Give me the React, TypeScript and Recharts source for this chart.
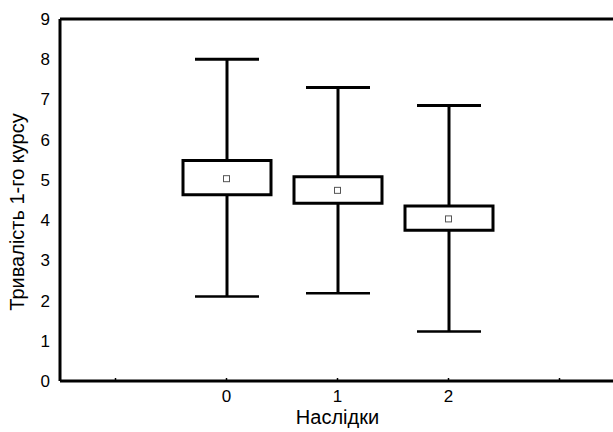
import React from "react";
import {
  ComposedChart,
  Bar,
  Scatter,
  XAxis,
  YAxis,
  Label,
} from "recharts";

// groups on the x axis; the outer two are empty slots that only carry a tick
const groups = ["-1", "0", "1", "2", "3"];
const minVals = [null, 2.1, 2.18, 1.23, null];
const q1Vals = [null, 4.63, 4.42, 3.75, null];
const q3Vals = [null, 5.48, 5.08, 4.35, null];
const maxVals = [null, 8.0, 7.3, 6.85, null];
const meanVals = [null, 5.03, 4.74, 4.03, null];
const yTicks = [0, 1, 2, 3, 4, 5, 6, 7, 8, 9];
const rightTicks = [1, 2, 3, 4, 5, 6, 7, 8];

const data = groups.map((g, i) => ({
  group: g,
  min: minVals[i],
  q1: q1Vals[i],
  q3: q3Vals[i],
  max: maxVals[i],
  mean: meanVals[i],
}));

const FONT = "'Liberation Sans', Arial, sans-serif";

const WhiskerShape: React.FC<any> = ({ x, y, width, height }) => {
  if (height == null || isNaN(y) || isNaN(height)) return null;
  const cx = x + width / 2;
  return (
    <g>
      <line x1={cx} x2={cx} y1={y} y2={y + height} stroke="#000" strokeWidth={3} />
      <line x1={x} x2={x + width} y1={y} y2={y} stroke="#000" strokeWidth={3} />
      <line x1={x} x2={x + width} y1={y + height} y2={y + height} stroke="#000" strokeWidth={2.5} />
    </g>
  );
};

const MeanShape: React.FC<any> = ({ cx, cy, payload }) => {
  if (payload == null || payload.mean == null || isNaN(cy)) return null;
  return (
    <rect x={cx - 3} y={cy - 3} width={6} height={6} fill="#fff" stroke="#555" strokeWidth={1} />
  );
};

const YLabel: React.FC<any> = ({ viewBox }) => {
  const cy = viewBox.y + viewBox.height / 2 + 12;
  return (
    <text
      x={24}
      y={cy}
      transform={`rotate(-90 24 ${cy})`}
      textAnchor="middle"
      fontFamily={FONT}
      fontSize={20}
      fill="#000"
    >
      Тривалість 1-го курсу
    </text>
  );
};

export default function App() {
  return (
    <div style={{ width: 613, height: 432, overflow: "hidden", background: "#fff" }}>
      <style>{"body{margin:0;overflow:hidden}"}</style>
      <ComposedChart
        width={620}
        height={432}
        data={data}
        margin={{ top: 18, right: 0, bottom: 0, left: 0 }}
      >
        <XAxis
          dataKey="group"
          type="category"
          height={51}
          axisLine={{ stroke: "#000", strokeWidth: 3 }}
          tickLine={{ stroke: "#000", strokeWidth: 1.5 }}
          tickSize={-3}
          tickMargin={12}
          tickFormatter={(v: string) => (v === "-1" || v === "3" ? "" : v)}
          tick={{ fill: "#000", fontSize: 17, fontFamily: FONT }}
        >
          <Label
            value="Наслідки"
            position="insideBottom"
            offset={8}
            style={{ fill: "#000", fontSize: 20, fontFamily: FONT }}
          />
        </XAxis>
        <XAxis
          xAxisId="top"
          dataKey="group"
          type="category"
          orientation="top"
          height={1}
          axisLine={{ stroke: "#000", strokeWidth: 3 }}
          tickLine={{ stroke: "#000", strokeWidth: 1.5 }}
          tickSize={-3}
          tick={false}
        />
        <YAxis
          type="number"
          domain={[0, 9]}
          ticks={yTicks}
          interval={0}
          width={60}
          axisLine={{ stroke: "#000", strokeWidth: 3 }}
          tickLine={false}
          tickMargin={4}
          tick={{ fill: "#000", fontSize: 17, fontFamily: FONT }}
          label={<YLabel />}
        />
        <YAxis
          yAxisId="right"
          orientation="right"
          type="number"
          domain={[0, 9]}
          ticks={rightTicks}
          interval={0}
          width={5}
          axisLine={false}
          tickLine={{ stroke: "#999", strokeWidth: 1 }}
          tickSize={-3}
          tick={false}
        />
        <Bar
          xAxisId="top"
          dataKey={(d: any) => (d.min == null ? null : [d.min, d.max])}
          barSize={64}
          shape={<WhiskerShape />}
          isAnimationActive={false}
        />
        <Bar
          dataKey={(d: any) => (d.q1 == null ? null : [d.q1, d.q3])}
          barSize={88}
          fill="#fff"
          stroke="#000"
          strokeWidth={3}
          isAnimationActive={false}
        />
        <Scatter dataKey="mean" shape={<MeanShape />} isAnimationActive={false} />
      </ComposedChart>
    </div>
  );
}
